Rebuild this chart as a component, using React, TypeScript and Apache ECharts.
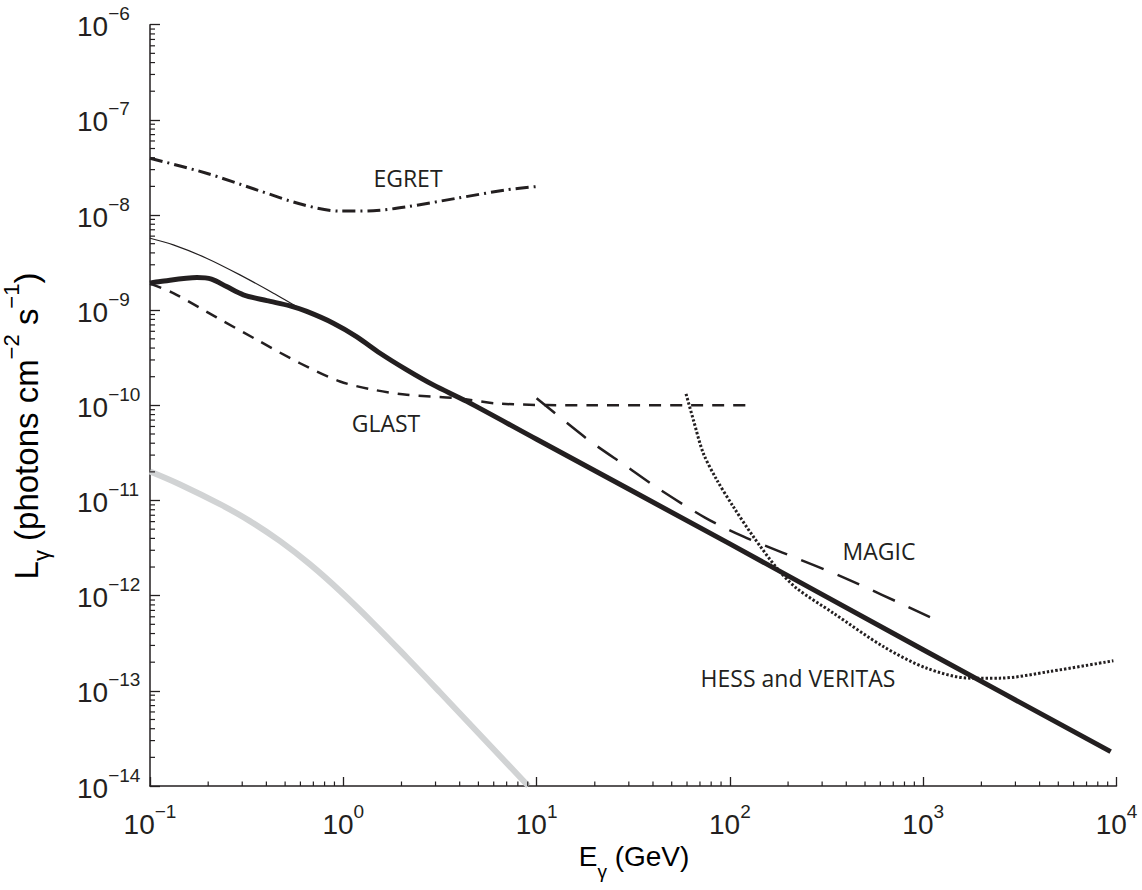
import React, { useEffect, useRef } from "react";
import * as echarts from "echarts";

// ---- Data ----
const modelE = [0.1, 0.113, 0.175, 0.208, 0.249, 0.304, 0.402, 0.53, 0.647, 0.888, 1.17, 1.55, 2.13, 2.92, 4.35, 10, 100, 1000, 9330];
const modelFlux = [1.92e-9, 2.0e-9, 2.2e-9, 2.12e-9, 1.77e-9, 1.45e-9, 1.26e-9, 1.11e-9, 9.7e-10, 7.3e-10, 5.28e-10, 3.53e-10, 2.36e-10, 1.64e-10, 1.1e-10, 4.4e-11, 3.5e-12, 2.7e-13, 2.3e-14];

const thinE = [0.1, 0.132, 0.196, 0.292, 0.435, 0.621, 0.888];
const thinFlux = [5.7e-9, 4.85e-9, 3.52e-9, 2.35e-9, 1.51e-9, 1.0e-9, 7.3e-10];

const grayE = [0.1, 0.143, 0.23, 0.329, 0.471, 0.673, 0.962, 1.43, 2.13, 3.16, 9.06];
const grayFlux = [2.02e-11, 1.476e-11, 9.16e-12, 6.08e-12, 3.74e-12, 2.13e-12, 1.12e-12, 5.13e-13, 2.24e-13, 9.66e-14, 1.0e-14];

const glastE = [0.1, 0.132, 0.221, 0.356, 0.597, 0.962, 1.43, 2.13, 3.86, 6.46, 20, 130];
const glastFlux = [1.9e-9, 1.51e-9, 8.4e-10, 4.9e-10, 2.77e-10, 1.78e-10, 1.46e-10, 1.29e-10, 1.19e-10, 1.04e-10, 1.0e-10, 1.0e-10];

const egretE = [0.1, 0.196, 0.356, 0.621, 0.962, 1.43, 2.13, 3.86, 7.0, 10];
const egretFlux = [3.95e-8, 2.75e-8, 1.84e-8, 1.28e-8, 1.1e-8, 1.11e-8, 1.22e-8, 1.5e-8, 1.84e-8, 1.99e-8];

const magicE = [10, 18.5, 29.2, 41.8, 74.3, 117, 187, 394, 1084];
const magicFlux = [1.19e-10, 4.35e-11, 2.28e-11, 1.37e-11, 6.62e-12, 4.19e-12, 2.84e-12, 1.53e-12, 5.96e-13];

const hessE = [59.3, 64.7, 72.8, 85.5, 104, 132, 175, 221, 343, 622, 1042, 1746, 2495, 4529, 9638];
const hessFlux = [1.32e-10, 7.05e-11, 3.15e-11, 1.65e-11, 8.65e-12, 4.19e-12, 1.95e-12, 1.2e-12, 6.56e-13, 2.92e-13, 1.73e-13, 1.36e-13, 1.36e-13, 1.6e-13, 2.07e-13];

const xMin = 0.1;
const xMax = 1e4;
const yMin = 1e-14;
const yMax = 1e-6;

const annotations = [
  { text: "EGRET", x: 408, y: 178 },
  { text: "GLAST", x: 386, y: 422.5 },
  { text: "MAGIC", x: 879, y: 551 },
  { text: "HESS and VERITAS", x: 798, y: 677.5 },
];

// minor tick positions (2..9 × 10^k) for the log axes
const xMinor: number[] = [];
for (let k = -1; k < 4; k++) for (let m = 2; m <= 9; m++) xMinor.push(m * Math.pow(10, k));
const yMinor: number[] = [];
for (let k = -14; k < -6; k++) for (let m = 2; m <= 9; m++) yMinor.push(m * Math.pow(10, k));

const ink = "#231f20";
const sans = "'Liberation Sans', Arial, Helvetica, sans-serif";
const labelFont = "'Open Sans', 'Noto Sans', sans-serif";

function expLabel(v: number) {
  const e = Math.round(Math.log10(v));
  const s = e < 0 ? "\u2212" + -e : String(e);
  return "{b|10}{s|" + s + "}";
}

function pairs(xs: number[], ys: number[]) {
  return xs.map((x, i) => [x, ys[i]]);
}

export default function App() {
  const ref = useRef<HTMLDivElement>(null);
  useEffect(() => {
    if (!ref.current) return;
    const chart = echarts.init(ref.current, null, { renderer: "svg" });

    const line = (name: string, xs: number[], ys: number[], lineStyle: any, z = 3, smooth: number | boolean = 0.3) => ({
      type: "line",
      name,
      data: pairs(xs, ys),
      symbol: "none",
      showSymbol: false,
      smooth,
      silent: true,
      z,
      lineStyle: { cap: "butt", join: "round", ...lineStyle },
    });

    const xRich = {
      b: { fontSize: 28, lineHeight: 28, padding: [10, 0, 10, 0], fontFamily: sans, color: ink },
      s: { fontSize: 19, lineHeight: 19, padding: [1.5, 0, 27.5, 0], fontFamily: sans, color: ink },
    };
    const yRich = {
      b: { fontSize: 28, lineHeight: 28, padding: [12, 0, 8, 0], fontFamily: sans, color: ink },
      s: { fontSize: 19, lineHeight: 19, padding: [3.5, 0, 25.5, 0], fontFamily: sans, color: ink },
    };
    const nameRich = {
      b: { fontSize: 28, lineHeight: 28, padding: [10, 0, 10, 0], fontFamily: sans, color: ink },
      sub: { fontSize: 19, lineHeight: 19, padding: [29, 0, 0, 0], fontFamily: sans, color: ink },
      sup: { fontSize: 19, lineHeight: 19, padding: [1.5, 0, 27.5, 0], fontFamily: sans, color: ink },
    };
    const yNameRich = {
      b: { fontSize: 33, lineHeight: 33, padding: [10, 0, 10, 0], fontFamily: sans, color: ink },
      sub: { fontSize: 22, lineHeight: 22, padding: [31, 0, 0, 0], fontFamily: sans, color: ink },
      sup: { fontSize: 22, lineHeight: 22, padding: [1, 0, 30, 0], fontFamily: sans, color: ink },
    };

    const option: any = {
      animation: false,
      backgroundColor: "#ffffff",
      grid: { left: 150, right: 25.5, top: 24.7, bottom: 104, containLabel: false },
      xAxis: {
        type: "log",
        logBase: 10,
        min: xMin,
        max: xMax,
        splitNumber: 5,
        axisLine: { show: true, lineStyle: { color: ink, width: 1.5 } },
        axisTick: { show: true, inside: true, length: 9, lineStyle: { color: ink, width: 1.3 } },
        splitLine: { show: false },
        axisLabel: {
          margin: 24,
          formatter: expLabel,
          rich: xRich,
          showMinLabel: true,
          showMaxLabel: true,
          hideOverlap: false,
        },
      },
      yAxis: {
        type: "log",
        logBase: 10,
        min: yMin,
        max: yMax,
        splitNumber: 8,
        axisLine: { show: true, lineStyle: { color: ink, width: 1.5 } },
        axisTick: { show: true, inside: true, length: 10, lineStyle: { color: ink, width: 1.3 } },
        splitLine: { show: false },
        axisLabel: {
          margin: 73,
          align: "left",
          formatter: expLabel,
          rich: yRich,
          showMinLabel: true,
          showMaxLabel: true,
          hideOverlap: false,
        },
      },
      series: [
        line("gray", grayE, grayFlux, { color: "#d1d3d4", width: 6 }, 2, 0.4),
        line("thin", thinE, thinFlux, { color: ink, width: 1.2 }, 3),
        line("model", modelE, modelFlux, { color: ink, width: 5 }, 4),
        line("GLAST", glastE, glastFlux, { color: ink, width: 2.5, type: [12, 9] }, 5),
        line("EGRET", egretE, egretFlux, { color: ink, width: 3, type: [13, 5, 2, 5] }, 5),
        line("MAGIC", magicE, magicFlux, { color: ink, width: 2.5, type: [24, 15] }, 5),
        line("HESS", hessE, hessFlux, { color: ink, width: 3, type: [2.4, 2] }, 5),
        {
          type: "custom",
          silent: true,
          clip: false,
          z: 6,
          data: xMinor.map((v) => [v, yMin]),
          renderItem: (_p: any, api: any) => {
            const pt = api.coord([api.value(0), api.value(1)]);
            return {
              type: "line",
              shape: { x1: pt[0], y1: pt[1], x2: pt[0], y2: pt[1] - 4.5 },
              style: { stroke: ink, lineWidth: 1.2 },
            };
          },
        },
        {
          type: "custom",
          silent: true,
          clip: false,
          z: 6,
          data: yMinor.map((v) => [xMin, v]),
          renderItem: (_p: any, api: any) => {
            const pt = api.coord([api.value(0), api.value(1)]);
            return {
              type: "line",
              shape: { x1: pt[0], y1: pt[1], x2: pt[0] + 5, y2: pt[1] },
              style: { stroke: ink, lineWidth: 1.2 },
            };
          },
        },
      ],
      graphic: [
        ...annotations.map((a) => ({
          type: "text",
          x: a.x,
          y: a.y,
          silent: true,
          style: {
            text: a.text,
            fill: ink,
            font: "23px " + labelFont,
            align: "center",
            verticalAlign: "middle",
          },
        })),
        {
          type: "text",
          x: 634,
          y: 856.5,
          silent: true,
          style: {
            text: "{b|E}{sub|\u03b3}{b| (GeV)}",
            rich: nameRich,
            align: "center",
            verticalAlign: "middle",
          },
        },
        {
          type: "text",
          x: 26,
          y: 426,
          rotation: Math.PI / 2,
          silent: true,
          style: {
            text: "{b|L}{sub|\u03b3}{b| (photons cm}{sup|\u22122}{b| s}{sup|\u22121}{b|)}",
            rich: yNameRich,
            align: "center",
            verticalAlign: "middle",
          },
        },
      ],
    };

    chart.setOption(option);
    return () => chart.dispose();
  }, []);

  return (
    <div
      ref={ref}
      style={{ position: "fixed", left: 0, top: 0, width: 1142, height: 890, background: "#fff" }}
    />
  );
}
